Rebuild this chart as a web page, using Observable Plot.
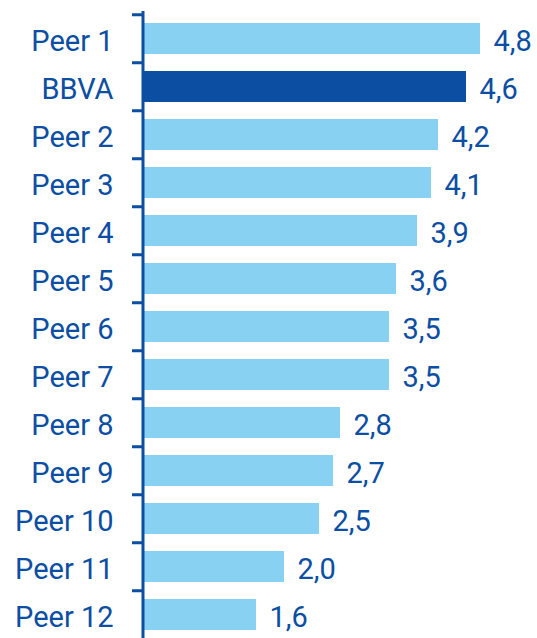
<!DOCTYPE html>
<html>
<head>
<meta charset="utf-8">
<script src="https://cdn.jsdelivr.net/npm/d3@7"></script>
<script src="https://cdn.jsdelivr.net/npm/@observablehq/plot@0.6"></script>
<style>
  html, body { margin: 0; padding: 0; background: #ffffff; }
  #chart { width: 537px; height: 638px; overflow: hidden; }
  svg { display: block; }
</style>
</head>
<body>
<div id="chart"></div>
<script>
const categories = ["Peer 1", "BBVA", "Peer 2", "Peer 3", "Peer 4", "Peer 5", "Peer 6", "Peer 7", "Peer 8", "Peer 9", "Peer 10", "Peer 11", "Peer 12"];
const values = [4.8, 4.6, 4.2, 4.1, 3.9, 3.6, 3.5, 3.5, 2.8, 2.7, 2.5, 2.0, 1.6];
const highlight = "BBVA";

const data = categories.map((c, i) => ({ name: c, value: values[i] }));

const W = 537, H = 638;
const mL = 144, mR = 43, mT = 11, mB = -3.5;
const pInner = 0.36, pOuter = 0.18;
const step = (H - mT - mB) / (categories.length - pInner + 2 * pOuter);
const frameW = W - mL - mR;

const dark = "#0b4ea2";
const light = "#89d1f3";
const font = "Roboto, Lato, sans-serif";

const chart = Plot.plot({
  width: W,
  height: H,
  marginLeft: mL,
  marginRight: mR,
  marginTop: mT,
  marginBottom: mB,
  style: { fontFamily: font, background: "#ffffff", overflow: "visible" },
  x: { domain: [0, 5], axis: null },
  y: { domain: categories, paddingInner: pInner, paddingOuter: pOuter, axis: null },
  marks: [
    Plot.barX(data, { y: "name", x: "value", fill: d => d.name === highlight ? dark : light }),
    Plot.ruleX([0], { stroke: dark, strokeWidth: 3, dx: -1.5 }),
    Plot.ruleY(categories, { y: d => d, dy: -step / 2, stroke: dark, strokeWidth: 3, insetLeft: -12, insetRight: frameW + 1 }),
    Plot.text(data, { y: "name", x: 0, text: "name", textAnchor: "end", dx: -31, dy: 3, fill: dark, fontSize: 29 }),
    Plot.text(data, { y: "name", x: "value", text: d => d.value.toFixed(1).replace(".", ","), textAnchor: "start", dx: 13, dy: 3, fill: dark, fontSize: 29 })
  ]
});
document.getElementById("chart").appendChild(chart);
</script>
</body>
</html>
